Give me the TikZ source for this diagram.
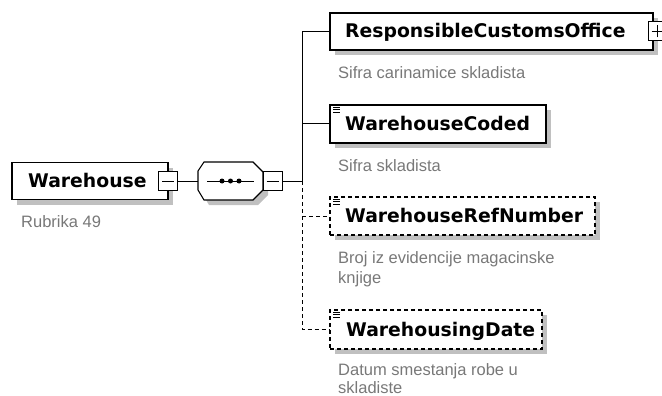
\documentclass[tikz,border=0pt]{standalone}
\usepackage{fontspec}
\setmainfont{DejaVu Sans}
\newfontfamily\descfont{Liberation Sans}
\definecolor{descgray}{RGB}{120,120,120}
\definecolor{shadowgray}{RGB}{192,192,192}
\tikzset{
  elbox/.style={draw, line width=1.1pt, fill=white, inner sep=0pt},
  optbox/.style={elbox, dash pattern=on 4pt off 3pt},
  shadowbox/.style={fill=shadowgray, draw=none},
  pmbox/.style={draw, line width=1pt, fill=white, inner sep=0pt, minimum width=19pt, minimum height=19pt},
  lbl/.style={font=\bfseries\fontsize{18.8}{22}\selectfont, anchor=base west, inner sep=0pt},
  desc/.style={font=\descfont\fontsize{16.5}{20}\selectfont, text=descgray, anchor=base west, inner sep=0pt},
  conn/.style={line width=1pt},
  optconn/.style={line width=1pt, dash pattern=on 4pt off 3pt},
  icon/.style={line width=0.8pt}
}
\begin{document}
\begin{tikzpicture}[x=1pt,y=-1pt]
\useasboundingbox (0,0) rectangle (662,396);
\clip (0,0) rectangle (662,396);

% ---------- Warehouse ----------
\fill[shadowbox] (17,167.5) rectangle (173,204.5);
\node[elbox, minimum width=156pt, minimum height=37pt] (wh) at (90,181) {};
\node[lbl] (whl) at (28,187) {Warehouse};
\node[pmbox] (whm) at (168,181) {};
\draw[conn] ([xshift=-6pt]whm.center) -- ([xshift=6pt]whm.center);
\node[desc] (whd) at (21,227) {Rubrika 49};

% ---------- sequence ----------
\node[inner sep=0pt, minimum width=65pt, minimum height=38pt] (seq) at (230.5,181) {};
\fill[shadowbox] (203,176) -- (209,167) -- (258,167) -- (268,177) -- (268,195) -- (258,205) -- (209,205) -- (203,195) -- cycle;
\draw[elbox] (198,171) -- (204,162) -- (253,162) -- (263,172) -- (263,190) -- (253,200) -- (204,200) -- (198,190) -- cycle;
\draw[conn] (207,181) -- (254,181);
\foreach \dx in {222,230.5,239} \fill (\dx,181) circle (2.5pt);
\node[pmbox] (seqm) at (272.5,181) {};
\draw[conn] ([xshift=-6pt]seqm.center) -- ([xshift=6pt]seqm.center);
\draw[conn] (whm.east) -- (seq.west);
\coordinate (jn) at (302,181);
\draw[conn] (seqm.east) -- (jn);

% ---------- ResponsibleCustomsOffice ----------
\fill[shadowbox] (335,18.5) rectangle (658,55.5);
\node[elbox, minimum width=323pt, minimum height=37pt] (rco) at (491.5,31.5) {};
\node[lbl] (rcol) at (345,37.5) {ResponsibleCustomsOffice};
\node[pmbox] (rcop) at (657.5,31.5) {};
\draw[conn] ([xshift=-6pt]rcop.center) -- ([xshift=6pt]rcop.center);
\draw[conn] ([yshift=-6pt]rcop.center) -- ([yshift=6pt]rcop.center);
\node[desc] (rcod) at (338,78) {Sifra carinamice skladista};

% ---------- WarehouseCoded ----------
\fill[shadowbox] (335,110) rectangle (551,148);
\node[elbox, minimum width=216pt, minimum height=38pt] (whc) at (438,124) {};
\draw[icon] (333,107) -- (340,107) (333,109.5) -- (340,109.5) (333,112) -- (340,112);
\node[lbl] (whcl) at (345,130) {WarehouseCoded};
\node[desc] (whcd) at (338,171) {Sifra skladista};

% ---------- WarehouseRefNumber ----------
\fill[shadowbox] (335,202) rectangle (600,240);
\node[optbox, minimum width=265pt, minimum height=38pt] (wrn) at (462.5,216) {};
\draw[icon] (333,199) -- (340,199) (333,201.5) -- (340,201.5) (333,204) -- (340,204);
\node[lbl] (wrnl) at (345,222) {WarehouseRefNumber};
\node[desc] (wrnd) at (338,263) {Broj iz evidencije magacinske};
\node[desc] (wrnd2) at (338,283) {knjige};

% ---------- WarehousingDate ----------
\fill[shadowbox] (335,315) rectangle (547,354);
\node[optbox, minimum width=212pt, minimum height=39pt] (wd) at (436,329.5) {};
\draw[icon] (333,312) -- (340,312) (333,314.5) -- (340,314.5) (333,317) -- (340,317);
\node[lbl] (wdl) at (346,336) {WarehousingDate};
\node[desc] (wdd) at (338,375) {Datum smestanja robe u};
\node[desc] (wdd2) at (338,393.5) {skladiste};

% ---------- connectors ----------
\draw[conn] (jn) |- (rco.west);
\draw[conn] (jn |- whc.west) -- (whc.west);
\draw[optconn] (jn) |- (wd.west);
\draw[optconn] (jn |- wrn.west) -- (wrn.west);
\end{tikzpicture}
\end{document}
